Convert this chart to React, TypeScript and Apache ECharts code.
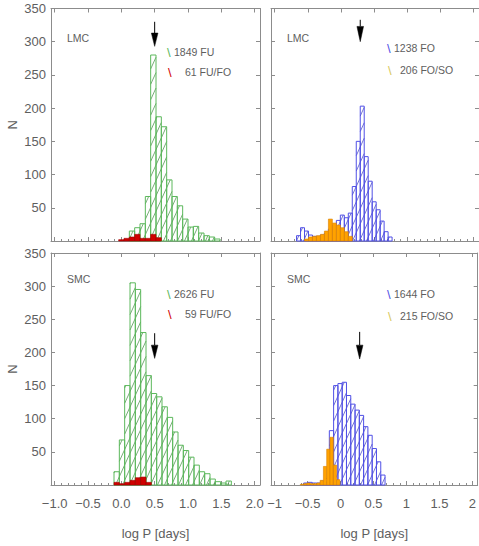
import React, { useEffect, useRef } from "react";
import * as echarts from "echarts";

// ---- axis settings -------------------------------------------------------
const X_MIN = -1.055;
const X_MAX = 2.08;
const Y_MAX = 350;
const MAJOR_X = [-1, -0.5, 0, 0.5, 1, 1.5, 2];
const MINOR_X = Array.from({ length: 31 }, (_, i) => Math.round((-1 + i * 0.1) * 10) / 10);
const Y_TICKS = [50, 100, 150, 200, 250, 300, 350];

// ---- histograms: first bin edge, bin width, counts per bin --------------
const lmcFuStart = 0.12;
const lmcFuWidth = 0.08;
const lmcFuCounts = [15, 20, 26, 67, 280, 187, 172, 92, 67, 53, 33, 21, 22, 12, 8, 6, 3];

const lmcFuFoStart = -0.04;
const lmcFuFoWidth = 0.08;
const lmcFuFoCounts = [2, 4, 6, 10, 4, 4, 10, 5];

const lmcFoStart = -0.67;
const lmcFoWidth = 0.06;
const lmcFoCounts = [8, 20, 15, 9, 7, 7, 9, 12, 18, 24, 31, 39, 35, 42, 82, 150, 203, 127, 90, 59, 47, 30, 14, 6];

const lmcFoSoStart = -0.55;
const lmcFoSoWidth = 0.06;
const lmcFoSoCounts = [3, 6, 7, 8, 10, 15, 33, 27, 24, 20, 14, 7];

const smcFuStart = -0.11;
const smcFuWidth = 0.08;
const smcFuCounts = [20, 68, 150, 305, 295, 230, 165, 138, 133, 118, 102, 80, 60, 52, 42, 30, 20, 17, 9, 5, 3, 6];

const smcFuFoStart = -0.11;
const smcFuFoWidth = 0.08;
const smcFuFoCounts = [4, 2, 4, 7, 11, 12, 4];

const smcFoStart = -0.56;
const smcFoWidth = 0.065;
const smcFoCounts = [3, 4, 3, 3, 6, 10, 82, 150, 153, 155, 135, 122, 113, 105, 88, 75, 55, 35, 15];

const smcFoSoStart = -0.61;
const smcFoSoWidth = 0.05;
const smcFoSoCounts = [1, 2, 3, 2, 2, 3, 7, 28, 54, 72, 30, 8];

// ---- arrows: x position, shaft top, head top, tip (in N units) ----------
const arrowX = [0.5, 0.29, 0.5, 0.29];
const arrowShaftTop = [330, 333, 229, 231];
const arrowHeadTop = [313, 323, 211, 211];
const arrowTip = [293, 300, 191, 190];

// ---- panel texts ---------------------------------------------------------
const fieldNames = ["LMC", "LMC", "SMC", "SMC"];
const legendMain = ["1849 FU", "1238 FO", "2626 FU", "1644 FO"];
const legendMixed = ["61 FU/FO", "206 FO/SO", "59 FU/FO", "215 FO/SO"];
const xAxisTitle = "log P [days]";
const yAxisTitle = "N";

const FONT = "'Liberation Sans', Arial, sans-serif";
const TEXT = "#5e5e5e";
const FRAME = "#8c8c8c";

const GREEN = "#5cb85c";
const GREEN_HATCH = "#3d8a3d";
const BLUE = "#5050e6";
const BLUE_HATCH = "#3a3ac0";
const RED = "#d00000";
const ORANGE = "#ffa200";

function toBins(start: number, width: number, counts: number[]) {
  return counts.map((n, i) => [start + i * width, start + (i + 1) * width, n]);
}

// outlined bars with "/" hatching that runs continuously across the panel
function hatchedRender(stroke: string, hatch: string) {
  return (_params: any, api: any) => {
    const top = api.coord([api.value(0), api.value(2)]);
    const bot = api.coord([api.value(1), 0]);
    const x0 = top[0], y0 = top[1], x1 = bot[0], y1 = bot[1];
    const slope = 2.2;
    const step = 7;
    const children: any[] = [];
    const cMin = x0 + y0 / slope;
    const cMax = x1 + y1 / slope;
    for (let c = Math.ceil(cMin / step) * step; c <= cMax; c += step) {
      const ya = Math.max(y0, slope * (c - x1));
      const yb = Math.min(y1, slope * (c - x0));
      if (yb - ya > 0.4) {
        children.push({
          type: "line",
          shape: { x1: c - ya / slope, y1: ya, x2: c - yb / slope, y2: yb },
          style: { stroke: hatch, lineWidth: 0.7 },
          silent: true,
        });
      }
    }
    children.push({
      type: "rect",
      shape: { x: x0, y: y0, width: x1 - x0, height: y1 - y0 },
      style: { fill: "none", stroke, lineWidth: 1 },
      silent: true,
    });
    return { type: "group", children };
  };
}

function filledRender(fill: string, stroke: string) {
  return (_params: any, api: any) => {
    const top = api.coord([api.value(0), api.value(2)]);
    const bot = api.coord([api.value(1), 0]);
    return {
      type: "rect",
      shape: { x: top[0], y: top[1], width: bot[0] - top[0], height: bot[1] - top[1] },
      style: { fill, stroke, lineWidth: 0.6 },
      silent: true,
    };
  };
}

function arrowRender(_params: any, api: any) {
  const x = api.value(0);
  const a = api.coord([x, api.value(1)]);
  const b = api.coord([x, api.value(2)]);
  const c = api.coord([x, api.value(3)]);
  return {
    type: "group",
    children: [
      { type: "line", shape: { x1: a[0], y1: a[1], x2: b[0], y2: b[1] }, style: { stroke: "#000", lineWidth: 1 } },
      {
        type: "polygon",
        shape: { points: [[b[0] - 3.3, b[1]], [b[0] + 3.3, b[1]], [c[0], c[1]]] },
        style: { fill: "#000", stroke: "#000", lineWidth: 0.5 },
      },
    ],
  };
}

const fmtLeft = (v: number) => v.toFixed(1).replace("-", "\u2212");
const fmtRight = (v: number) => String(v).replace("-", "\u2212");

function buildOption() {
  const grids = [
    { left: 51, top: 8.5, width: 209, height: 232.5 },
    { left: 271, top: 8.5, width: 209, height: 232.5 },
    { left: 51, top: 253, width: 209, height: 232 },
    { left: 271, top: 253, width: 209, height: 232 },
  ];
  const lineStyle = { color: FRAME, width: 1 };
  const xAxis: any[] = [];
  const yAxis: any[] = [];
  for (let p = 0; p < 4; p++) {
    const bottomRow = p >= 2;
    const leftCol = p % 2 === 0;
    xAxis.push({
      type: "value", gridIndex: p, position: "bottom", min: X_MIN, max: X_MAX,
      axisLine: { show: true, onZero: false, lineStyle },
      axisTick: { show: true, inside: true, length: 4, customValues: MAJOR_X, lineStyle },
      axisLabel: {
        show: bottomRow, customValues: MAJOR_X, formatter: leftCol ? fmtLeft : fmtRight,
        color: TEXT, fontSize: 13, fontFamily: FONT, margin: 12,
      },
      splitLine: { show: false },
      name: bottomRow ? xAxisTitle : "",
      nameLocation: "middle", nameGap: 42,
      nameTextStyle: { color: TEXT, fontSize: 13, fontFamily: FONT },
    });
    xAxis.push({
      type: "value", gridIndex: p, position: "top", min: X_MIN, max: X_MAX,
      axisLine: { show: true, onZero: false, lineStyle },
      axisTick: { show: true, inside: true, length: 4, customValues: MAJOR_X, lineStyle },
      axisLabel: { show: false }, splitLine: { show: false },
    });
    xAxis.push({
      type: "value", gridIndex: p, position: "bottom", min: X_MIN, max: X_MAX,
      axisLine: { show: false },
      axisTick: { show: true, inside: true, length: 2, customValues: MINOR_X, lineStyle },
      axisLabel: { show: false }, splitLine: { show: false },
    });
    yAxis.push({
      type: "value", gridIndex: p, position: "left", min: 0, max: Y_MAX, interval: 50,
      axisLine: { show: true, onZero: false, lineStyle },
      axisTick: { show: true, inside: true, length: 4, lineStyle },
      axisLabel: {
        show: leftCol, formatter: (v: number) => (Y_TICKS.includes(v) ? String(v) : ""),
        color: TEXT, fontSize: 13, fontFamily: FONT, margin: 5,
      },
      splitLine: { show: false },
      name: leftCol ? yAxisTitle : "",
      nameLocation: "middle", nameGap: 32, nameRotate: 90,
      nameTextStyle: { color: TEXT, fontSize: 13, fontFamily: FONT },
    });
    yAxis.push({
      type: "value", gridIndex: p, position: "right", min: 0, max: Y_MAX, interval: 50,
      axisLine: { show: true, onZero: false, lineStyle },
      axisTick: { show: true, inside: true, length: 4, lineStyle },
      axisLabel: { show: false }, splitLine: { show: false },
    });
  }

  const hist = (p: number, data: number[][], renderItem: any, z: number) => ({
    type: "custom", xAxisIndex: 3 * p, yAxisIndex: 2 * p, data,
    encode: { x: [0, 1], y: 2 }, renderItem, z, silent: true, clip: false,
  });

  const series: any[] = [
    hist(0, toBins(lmcFuStart, lmcFuWidth, lmcFuCounts), hatchedRender(GREEN, GREEN_HATCH), 2),
    hist(0, toBins(lmcFuFoStart, lmcFuFoWidth, lmcFuFoCounts), filledRender(RED, "#a00000"), 3),
    hist(1, toBins(lmcFoStart, lmcFoWidth, lmcFoCounts), hatchedRender(BLUE, BLUE_HATCH), 2),
    hist(1, toBins(lmcFoSoStart, lmcFoSoWidth, lmcFoSoCounts), filledRender(ORANGE, "#d98200"), 3),
    hist(2, toBins(smcFuStart, smcFuWidth, smcFuCounts), hatchedRender(GREEN, GREEN_HATCH), 2),
    hist(2, toBins(smcFuFoStart, smcFuFoWidth, smcFuFoCounts), filledRender(RED, "#a00000"), 3),
    hist(3, toBins(smcFoStart, smcFoWidth, smcFoCounts), hatchedRender(BLUE, BLUE_HATCH), 2),
    hist(3, toBins(smcFoSoStart, smcFoSoWidth, smcFoSoCounts), filledRender(ORANGE, "#d98200"), 3),
  ];
  for (let p = 0; p < 4; p++) {
    series.push({
      type: "custom", xAxisIndex: 3 * p, yAxisIndex: 2 * p,
      data: [[arrowX[p], arrowShaftTop[p], arrowHeadTop[p], arrowTip[p]]],
      encode: { x: 0, y: [1, 2, 3] }, renderItem: arrowRender, z: 4, silent: true, clip: false,
    });
  }

  const txt = (x: number, y: number, text: string, fill: string, size = 10.5) => ({
    type: "text", x, y, silent: true,
    style: { text, fill, fontSize: size, fontFamily: FONT, verticalAlign: "middle", align: "left" },
  });
  const mainColors = [GREEN, BLUE, GREEN, BLUE];
  const mixedColors = [RED, "#d8c860", RED, "#d8c860"];
  const panelX = [0, 220, 0, 220];
  const panelY = [0, 0, 241, 241];
  const mixedX = [185, 400, 185, 400];
  const mainY = [52, 48, 53, 53];
  const mixedY = [72, 70, 73, 75];
  const graphic: any[] = [];
  for (let p = 0; p < 4; p++) {
    graphic.push(txt(67 + panelX[p], 37.5 + panelY[p], fieldNames[p], TEXT));
    graphic.push(txt(167 + panelX[p], mainY[p] + panelY[p], "\\", mainColors[p], 13));
    graphic.push(txt(174 + panelX[p], mainY[p] + panelY[p], legendMain[p], TEXT));
    graphic.push(txt(168 + panelX[p], mixedY[p] + panelY[p], "\\", mixedColors[p], 13));
    graphic.push(txt(mixedX[p], mixedY[p] + panelY[p], legendMixed[p], TEXT));
  }

  return { animation: false, backgroundColor: "#ffffff", grid: grids, xAxis, yAxis, series, graphic };
}

export default function App() {
  const ref = useRef<HTMLDivElement>(null);
  useEffect(() => {
    if (!ref.current) return;
    const chart = echarts.init(ref.current, undefined, { renderer: "svg" });
    chart.setOption(buildOption());
    return () => chart.dispose();
  }, []);
  return (
    <div
      ref={ref}
      style={{ position: "fixed", left: 0, top: 0, width: 479, height: 546, background: "#fff" }}
    />
  );
}
